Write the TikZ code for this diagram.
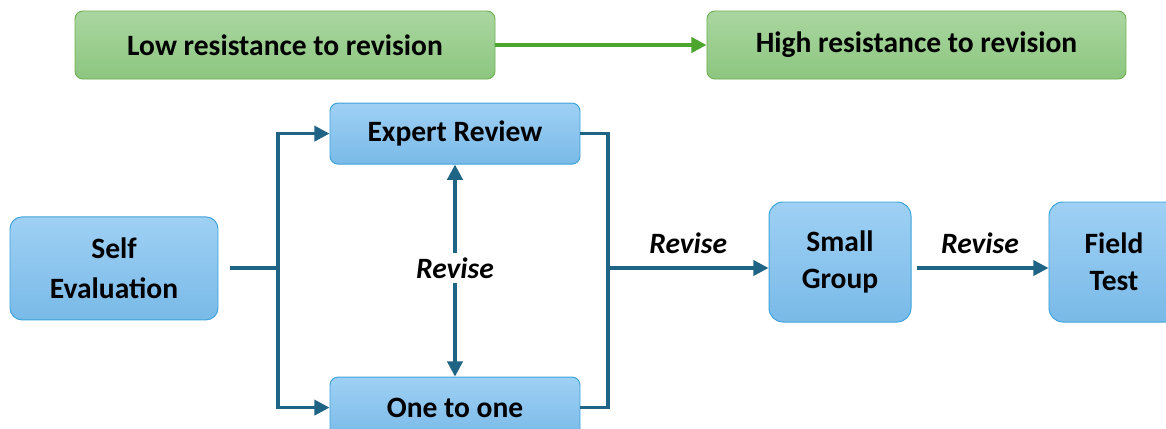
\documentclass[tikz,border=0pt]{standalone}
\usepackage{fontspec}
\setmainfont{Carlito}
\usetikzlibrary{arrows.meta, positioning}

\definecolor{flowblue}{HTML}{1F6385}
\definecolor{boxtop}{HTML}{9FD0F4}
\definecolor{boxbot}{HTML}{79BAE8}
\definecolor{boxline}{HTML}{3EA3DA}
\definecolor{greentop}{HTML}{AAD6A1}
\definecolor{greenbot}{HTML}{8CC67F}
\definecolor{greenline}{HTML}{6DB150}
\definecolor{arrowgreen}{HTML}{4CA62E}

\begin{document}
\begin{tikzpicture}[
    >={Triangle[length=0.38cm, width=0.38cm]},
    font=\fontsize{21}{26}\selectfont\bfseries,
    stagebox/.style={draw=boxline, line width=0.7pt, rounded corners=0.2cm,
                     top color=boxtop, bottom color=boxbot, align=center,
                     inner sep=0pt},
    resist/.style={draw=greenline, line width=0.7pt, rounded corners=0.2cm,
                   top color=greentop, bottom color=greenbot,
                   minimum height=1.7cm, inner sep=0pt},
    flow/.style={draw=flowblue, line width=2.4pt},
    revlabel/.style={font=\fontsize{21}{26}\selectfont\bfseries\itshape}
  ]
  \useasboundingbox (0,0) rectangle (29.15,-10.7);

  % resistance scale
  \node[resist, minimum width=10.5cm] (low) at (7.125,-1.125)
    {Low resistance to revision};
  \node[resist, minimum width=10.475cm, right=5.275cm of low] (high)
    {High resistance to revision};
  \draw[arrowgreen, line width=2.7pt,
        -{Triangle[length=0.38cm, width=0.38cm]}] (low) -- (high);

  % stages
  \node[stagebox, minimum width=5.2cm, minimum height=2.575cm,
        rounded corners=0.3cm] (self) at (2.85,-6.71)
    {Self\\[0.1cm]Evaluation};
  \node[stagebox, minimum width=6.25cm, minimum height=1.525cm]
    (expert) at (11.375,-3.34) {Expert Review};
  \node[stagebox, minimum width=6.25cm, minimum height=1.525cm,
        below=5.3cm of expert] (one) {One to one};
  \node[stagebox, minimum width=3.55cm, minimum height=3cm,
        rounded corners=0.35cm] (small) at (21,-6.55) {Small\\Group};
  \node[stagebox, minimum width=3.25cm, minimum height=3cm,
        rounded corners=0.35cm, right=3.425cm of small] (field) {Field\\Test};

  \coordinate (jl) at (6.95,-6.7);
  \coordinate (jr) at (15.2,-6.7);
  \node[revlabel] (rev) at (11.375,-6.7) {Revise};

  % connectors
  \draw[flow, shorten <=0.3cm] (self.east |- jl) -- (jl);
  \draw[flow, ->] (jl) |- (expert.west);
  \draw[flow, ->] (jl) |- (one.west);
  \draw[flow] (expert.east) -| (jr);
  \draw[flow] (one.east) -| (jr);
  \draw[flow, ->] (rev) -- (expert);
  \draw[flow, ->] (rev) -- (one);
  \draw[flow, ->] (jr) -- node[revlabel, above=0.2cm] (rev2) {Revise}
    (jr -| small.west);
  \draw[flow, ->, shorten <=0.125cm] (small.east |- jr) --
    node[revlabel, above=0.2cm] (rev3) {Revise} (field.west |- jr);
\end{tikzpicture}
\end{document}
